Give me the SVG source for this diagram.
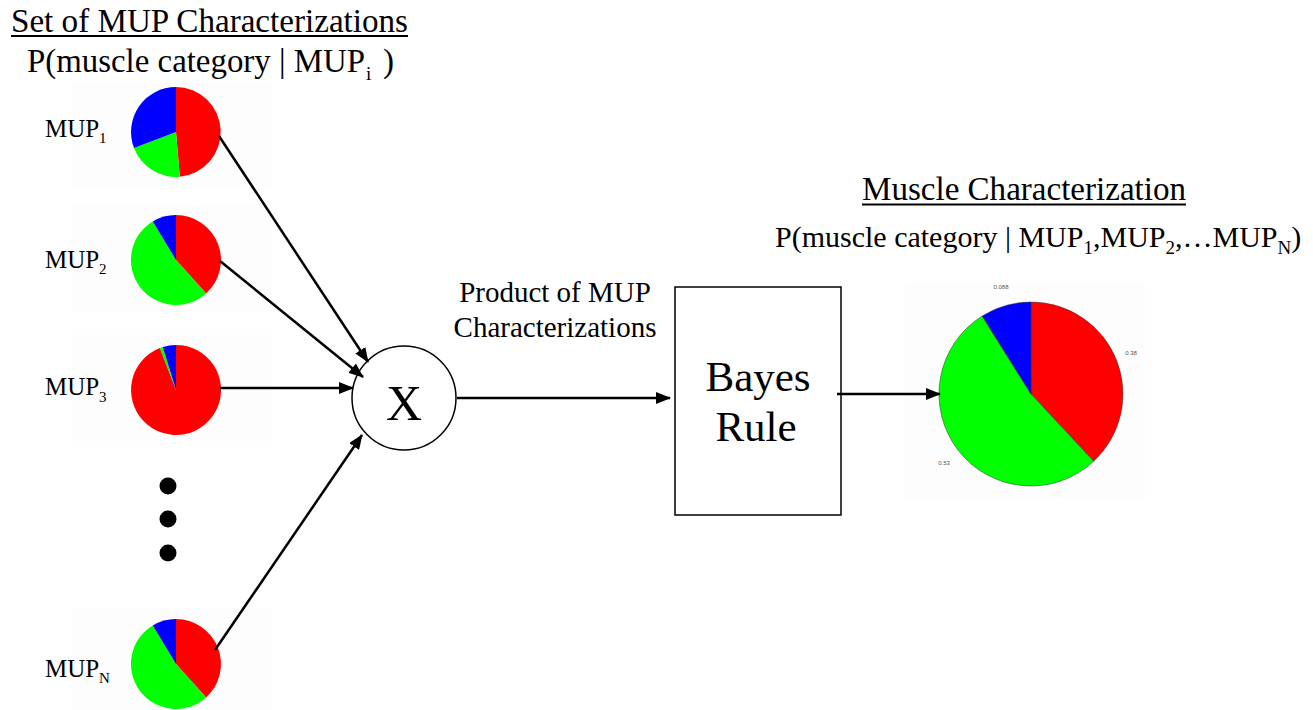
<svg xmlns="http://www.w3.org/2000/svg" width="1313" height="710" viewBox="0 0 1313 710">
<defs>
<style>
text{font-family:"Liberation Serif","Times New Roman",serif;fill:#000}
.title{font-size:33px}
.sub{font-size:19px}
.lbl{font-size:25px}
.lsub{font-size:15px}
.red{fill:#ff0000}
.green{fill:#00ff00}
.blue{fill:#0000ff}
.bg{fill:#fdfdfd}
.conn{stroke:#000;stroke-width:2.5;fill:none}
.val{font-family:"Liberation Sans",Arial,sans-serif;font-size:6px;fill:#555;text-anchor:middle}
</style>
<marker id="ah" markerWidth="15" markerHeight="12" refX="14" refY="6" orient="auto" markerUnits="userSpaceOnUse">
<path d="M0,0 L15,6 L0,12 Z" fill="#000"/>
</marker>
</defs>
<rect width="1313" height="710" fill="#fff"/>

<g id="title-left">
<text class="title" x="11" y="32" textLength="397" lengthAdjust="spacingAndGlyphs">Set of MUP Characterizations</text>
<line x1="11" y1="36" x2="408" y2="36" stroke="#000" stroke-width="1.8"/>
<text class="title" x="27" y="72" textLength="338" lengthAdjust="spacingAndGlyphs">P(muscle category | MUP</text>
<text class="sub" x="366" y="80">i</text>
<text class="title" x="383" y="72">)</text>
</g>

<g id="mup1">
<rect class="bg" x="72" y="82" width="200" height="104"/>
<text class="lbl" x="45" y="137">MUP</text><text class="lsub" x="99" y="143">1</text>
<path class="red" d="M176,132 L176,87 A45,45 0 0 1 179.9,176.8 Z"/>
<path class="green" d="M176,132 L179.9,176.8 A45,45 0 0 1 134.0,148.1 Z"/>
<path class="blue" d="M176,132 L134.0,148.1 A45,45 0 0 1 176,87 Z"/>
</g>

<g id="mup2">
<rect class="bg" x="72" y="204" width="200" height="108"/>
<text class="lbl" x="45" y="268">MUP</text><text class="lsub" x="99" y="274">2</text>
<path class="red" d="M176,260 L176,215 A45,45 0 0 1 206.1,293.4 Z"/>
<path class="green" d="M176,260 L206.1,293.4 A45,45 0 1 1 152.8,221.4 Z"/>
<path class="blue" d="M176,260 L152.8,221.4 A45,45 0 0 1 176,215 Z"/>
</g>

<g id="mup3">
<rect class="bg" x="72" y="335" width="200" height="106"/>
<text class="lbl" x="45" y="395">MUP</text><text class="lsub" x="99" y="402">3</text>
<path class="red" d="M176,390 L176,345 A45,45 0 1 1 159.9,348.0 Z"/>
<path class="green" d="M176,390 L159.9,348.0 A45,45 0 0 1 162.8,347.0 Z"/>
<path class="blue" d="M176,390 L162.8,347.0 A45,45 0 0 1 176,345 Z"/>
</g>

<g id="ellipsis">
<circle cx="168" cy="486" r="8.5" fill="#000"/>
<circle cx="168" cy="519" r="8.5" fill="#000"/>
<circle cx="168" cy="553" r="8.5" fill="#000"/>
</g>

<g id="mupN">
<rect class="bg" x="72" y="608" width="200" height="102"/>
<text class="lbl" x="45" y="677">MUP</text><text class="lsub" x="99" y="683">N</text>
<path class="red" d="M176,664 L176,619 A45,45 0 0 1 206.1,697.4 Z"/>
<path class="green" d="M176,664 L206.1,697.4 A45,45 0 1 1 152.8,625.4 Z"/>
<path class="blue" d="M176,664 L152.8,625.4 A45,45 0 0 1 176,619 Z"/>
</g>

<g id="product">
<circle cx="404" cy="398" r="52" fill="#fff" stroke="#000" stroke-width="1.5"/>
<text x="404" y="420" font-size="50" text-anchor="middle">X</text>
</g>

<g id="product-label">
<text x="555" y="302" font-size="29" text-anchor="middle">Product of MUP</text>
<text x="555" y="337" font-size="29" text-anchor="middle">Characterizations</text>
</g>

<g id="bayes">
<rect x="675" y="287" width="166" height="228" fill="#fff" stroke="#000" stroke-width="1.5"/>
<text x="758" y="391" font-size="43" text-anchor="middle">Bayes</text>
<text x="756" y="441" font-size="43" text-anchor="middle">Rule</text>
</g>

<g id="title-right">
<text class="title" x="862" y="200" textLength="324" lengthAdjust="spacingAndGlyphs">Muscle Characterization</text>
<line x1="862" y1="204.5" x2="1186" y2="204.5" stroke="#000" stroke-width="1.8"/>
<text x="775" y="247" font-size="30">P(muscle category | MUP<tspan class="sub" dy="7">1</tspan><tspan dy="-7">,MUP</tspan><tspan class="sub" dy="7">2</tspan><tspan dy="-7">,…MUP</tspan><tspan class="sub" dy="7">N</tspan><tspan dy="-7">)</tspan></text>
</g>

<g id="muscle-pie">
<rect class="bg" x="905" y="282" width="240" height="218"/>
<path class="red" stroke="#333" stroke-width="0.5" d="M1031,394 L1031,302 A92,92 0 0 1 1093.7,461.3 Z"/>
<path class="green" stroke="#333" stroke-width="0.5" d="M1031,394 L1093.7,461.3 A92,92 0 1 1 982.2,316.0 Z"/>
<path class="blue" stroke="#333" stroke-width="0.5" d="M1031,394 L982.2,316.0 A92,92 0 0 1 1031,302 Z"/>
<text class="val" x="1001" y="289">0.088</text>
<text class="val" x="1131" y="355">0.38</text>
<text class="val" x="944" y="465">0.53</text>
</g>

<g id="connectors">
<line class="conn" x1="219" y1="136" x2="368" y2="362" marker-end="url(#ah)"/>
<line class="conn" x1="220" y1="261" x2="363" y2="377" marker-end="url(#ah)"/>
<line class="conn" x1="220" y1="388" x2="353" y2="388" marker-end="url(#ah)"/>
<line class="conn" x1="215" y1="650" x2="362" y2="435" marker-end="url(#ah)"/>
<line class="conn" x1="457" y1="398" x2="670" y2="398" marker-end="url(#ah)"/>
<line class="conn" x1="837" y1="394" x2="940" y2="394" marker-end="url(#ah)"/>
</g>
</svg>
